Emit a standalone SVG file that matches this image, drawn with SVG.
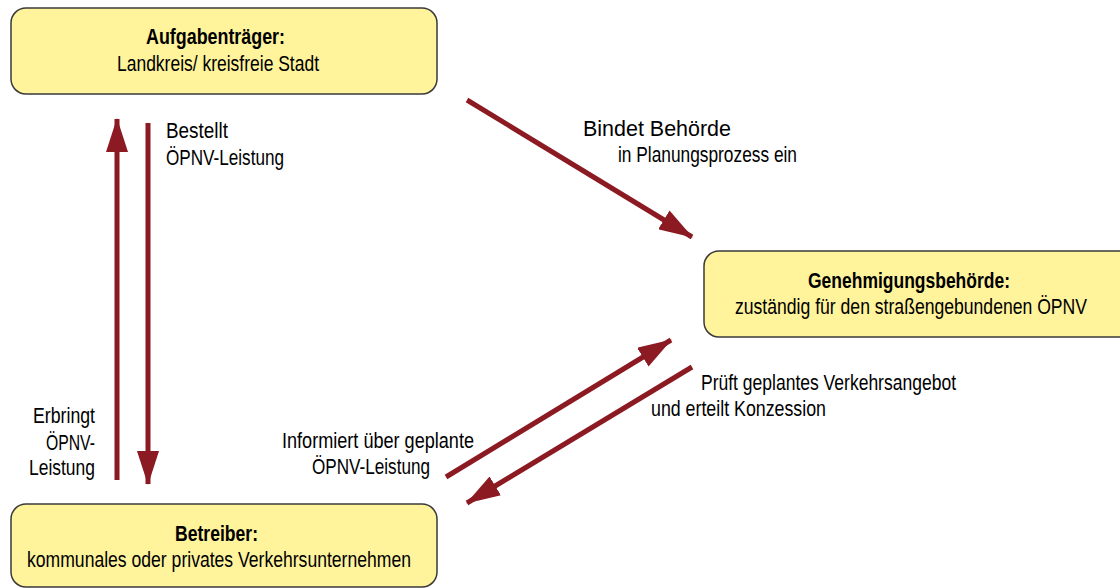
<svg xmlns="http://www.w3.org/2000/svg" width="1120" height="588" viewBox="0 0 1120 588">
<defs>
<style>
.box{fill:#fff39c;stroke:#3a3a3a;stroke-width:1.5}
text{font-family:"Liberation Sans Narrow","Liberation Sans",Arial,sans-serif;font-size:22px;fill:#000}
.b{font-weight:bold}
.e{text-anchor:end}
.c{stroke:#8c1a22;stroke-width:5;fill:none}
</style>
<marker id="ah" viewBox="0 0 34 22" refX="33" refY="11" markerWidth="34" markerHeight="22" orient="auto" markerUnits="userSpaceOnUse">
<path d="M0,0 L34,11 L0,22 z" fill="#8c1a22"/>
</marker>
</defs>
<rect width="1120" height="588" fill="#fff"/>
<g id="connectors">
<line class="c" x1="117" y1="480" x2="117" y2="119" marker-end="url(#ah)"/>
<line class="c" x1="148" y1="123" x2="148" y2="484" marker-end="url(#ah)"/>
<line class="c" x1="467" y1="100" x2="692" y2="237" marker-end="url(#ah)"/>
<line class="c" x1="446" y1="477" x2="671" y2="340" marker-end="url(#ah)"/>
<line class="c" x1="692" y1="367" x2="467" y2="503" marker-end="url(#ah)"/>
<text x="166" y="138" textLength="62" lengthAdjust="spacingAndGlyphs">Bestellt</text>
<text x="166" y="165" textLength="118" lengthAdjust="spacingAndGlyphs">ÖPNV-Leistung</text>
<text class="e" x="95" y="423" textLength="62" lengthAdjust="spacingAndGlyphs">Erbringt</text>
<text class="e" x="95" y="450" textLength="49" lengthAdjust="spacingAndGlyphs">ÖPNV-</text>
<text class="e" x="95" y="475" textLength="66" lengthAdjust="spacingAndGlyphs">Leistung</text>
<text x="583" y="136" textLength="148" lengthAdjust="spacingAndGlyphs">Bindet Behörde</text>
<text x="618" y="162" textLength="179" lengthAdjust="spacingAndGlyphs">in Planungsprozess ein</text>
<text x="282" y="448" textLength="192" lengthAdjust="spacingAndGlyphs">Informiert über geplante</text>
<text x="312" y="474" textLength="118" lengthAdjust="spacingAndGlyphs">ÖPNV-Leistung</text>
<text x="701" y="390" textLength="255" lengthAdjust="spacingAndGlyphs">Prüft geplantes Verkehrsangebot</text>
<text x="651" y="416" textLength="175" lengthAdjust="spacingAndGlyphs">und erteilt Konzession</text>
</g>
<g id="aufgabentraeger">
<rect class="box" x="11" y="8" width="426" height="86" rx="15"/>
<text class="b" x="146" y="44" textLength="139" lengthAdjust="spacingAndGlyphs">Aufgabenträger:</text>
<text x="117" y="71" textLength="202" lengthAdjust="spacingAndGlyphs">Landkreis/ kreisfreie Stadt</text>
</g>
<g id="genehmigungsbehoerde">
<rect class="box" x="704" y="251" width="430" height="86" rx="15"/>
<text class="b" x="808" y="288" textLength="202" lengthAdjust="spacingAndGlyphs">Genehmigungsbehörde:</text>
<text x="735" y="314" textLength="352" lengthAdjust="spacingAndGlyphs">zuständig für den straßengebundenen ÖPNV</text>
</g>
<g id="betreiber">
<rect class="box" x="11" y="504" width="426" height="83" rx="15"/>
<text class="b" x="175" y="541" textLength="83" lengthAdjust="spacingAndGlyphs">Betreiber:</text>
<text x="27" y="567" textLength="384" lengthAdjust="spacingAndGlyphs">kommunales oder privates Verkehrsunternehmen</text>
</g>
</svg>
